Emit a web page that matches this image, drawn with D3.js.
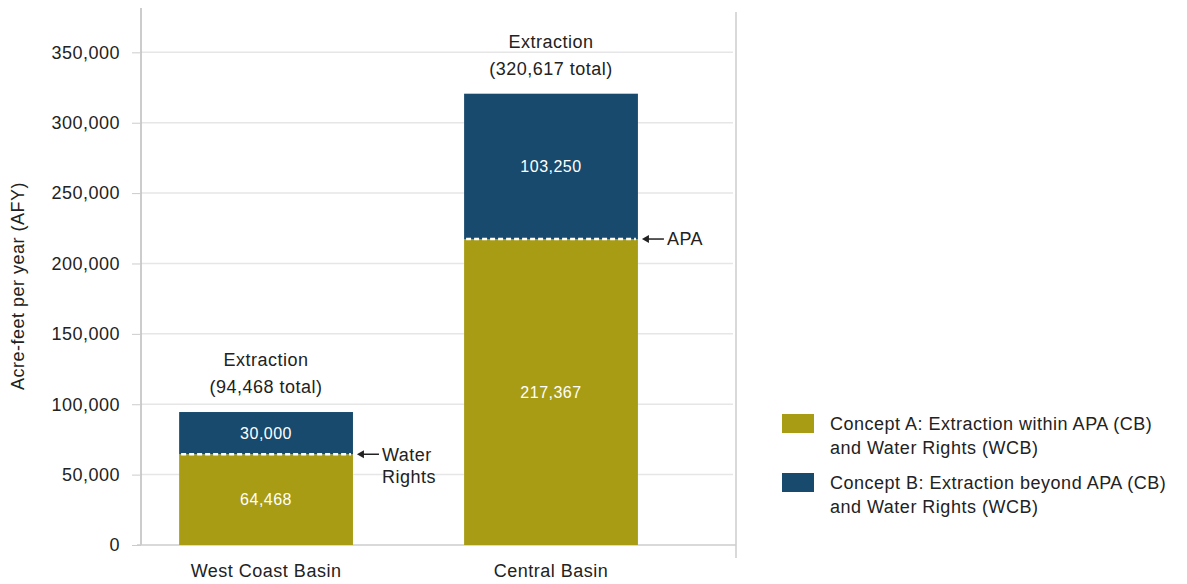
<!DOCTYPE html>
<html>
<head>
<meta charset="utf-8">
<script src="https://cdn.jsdelivr.net/npm/d3@7"></script>
<style>
  body { margin: 0; background: #fff; }
  svg text { font-family: "Liberation Sans", Arial, Helvetica, sans-serif; fill: #222; letter-spacing: 0.5px; }
</style>
</head>
<body>
<svg width="1187" height="584"></svg>
<script>
var basins = ["West Coast Basin", "Central Basin"];
var withinValues = [64468, 217367];   // Concept A
var beyondValues = [30000, 103250];   // Concept B
var totalLabels = ["(94,468 total)", "(320,617 total)"];
var markerLabels = [["Water", "Rights"], ["APA"]];
var yTicks = [0, 50000, 100000, 150000, 200000, 250000, 300000, 350000];
var legendItems = [
  ["Concept A: Extraction within APA (CB)", "and Water Rights (WCB)"],
  ["Concept B: Extraction beyond APA (CB)", "and Water Rights (WCB)"]
];

var colA = "#a89c14", colB = "#174a6d";

var svg = d3.select("svg");
var plotLeft = 141, plotRight = 736, plotTop = 8, plotBottom = 545;

var y = d3.scaleLinear().domain([0, 381500]).range([plotBottom, plotTop]);
var x = d3.scaleBand().domain(basins).range([plotLeft, plotRight])
    .paddingInner(0.39).paddingOuter(0.239).align(0.28);
var fmt = d3.format(",");

// gridlines
svg.append("g").selectAll("line")
    .data(yTicks.slice(1))
    .enter().append("line")
    .attr("x1", plotLeft).attr("x2", plotRight - 3)
    .attr("y1", function (d) { return y(d); })
    .attr("y2", function (d) { return y(d); })
    .attr("stroke", "#e6e6e6").attr("stroke-width", 1.5);

// y axis
var yAxis = svg.append("g")
    .attr("transform", "translate(" + plotLeft + ",0)")
    .call(d3.axisLeft(y).tickValues(yTicks).tickFormat(fmt).tickSize(9).tickPadding(12));
yAxis.select(".domain").attr("stroke", "#bbb").attr("stroke-width", 1.5)
    .attr("d", "M0," + plotBottom + "V" + plotTop);
yAxis.selectAll(".tick line").attr("stroke", "#ccc");
yAxis.selectAll(".tick text").style("font-size", "18px").attr("fill", "#222");

// right border and baseline
svg.append("line").attr("x1", plotRight).attr("x2", plotRight).attr("y1", 12).attr("y2", 558)
    .attr("stroke", "#ccc").attr("stroke-width", 1.5);
svg.append("line").attr("x1", plotLeft - 4).attr("x2", plotRight).attr("y1", plotBottom).attr("y2", plotBottom)
    .attr("stroke", "#ccc").attr("stroke-width", 1.5);

svg.append("text")
    .attr("transform", "translate(24,286) rotate(-90)")
    .attr("text-anchor", "middle")
    .style("font-size", "18px")
    .text("Acre-feet per year (AFY)");

// bars
var g = svg.append("g");
basins.forEach(function (b, i) {
  var a = withinValues[i], c = beyondValues[i];
  var bx = x(b), bw = x.bandwidth(), cx = bx + bw / 2;
  g.append("rect").attr("x", bx).attr("width", bw)
      .attr("y", y(a)).attr("height", y(0) - y(a)).attr("fill", colA);
  g.append("rect").attr("x", bx).attr("width", bw)
      .attr("y", y(a + c)).attr("height", y(0) - y(c)).attr("fill", colB);
  g.append("line").attr("x1", bx + 2).attr("x2", bx + bw - 2)
      .attr("y1", y(a)).attr("y2", y(a))
      .attr("stroke", "#fff").attr("stroke-width", 2.5).attr("stroke-dasharray", "5,3");

  g.append("text").attr("x", cx).attr("y", (y(0) + y(a)) / 2).attr("dy", "0.35em")
      .attr("text-anchor", "middle").style("font-size", "16px").style("fill", "#fff")
      .text(fmt(a));
  g.append("text").attr("x", cx).attr("y", (y(a) + y(a + c)) / 2).attr("dy", "0.35em")
      .attr("text-anchor", "middle").style("font-size", "16px").style("fill", "#fff")
      .text(fmt(c));

  g.append("text").attr("x", cx).attr("y", y(a + c) - 46)
      .attr("text-anchor", "middle").style("font-size", "18px").text("Extraction");
  g.append("text").attr("x", cx).attr("y", y(a + c) - 19)
      .attr("text-anchor", "middle").style("font-size", "18px").text(totalLabels[i]);

  // arrow marker label
  var ax = bx + bw + 4, ay = y(a);
  g.append("line").attr("x1", ax + 3).attr("x2", ax + 22).attr("y1", ay).attr("y2", ay)
      .attr("stroke", "#222").attr("stroke-width", 1.5);
  g.append("path").attr("d", "M" + ax + "," + ay + "l7,-4l0,8z").attr("fill", "#222");
  markerLabels[i].forEach(function (t, k) {
    g.append("text").attr("x", ax + 25).attr("y", ay + k * 22).attr("dy", "0.35em")
        .style("font-size", "18px").text(t);
  });

  g.append("text").attr("x", cx).attr("y", 577)
      .attr("text-anchor", "middle").style("font-size", "18px").text(b);
});

// legend
var leg = svg.append("g").attr("transform", "translate(782,414)");
legendItems.forEach(function (lines, i) {
  var row = leg.append("g").attr("transform", "translate(0," + (i * 59) + ")");
  row.append("rect").attr("width", 32).attr("height", 19).attr("fill", i === 0 ? colA : colB);
  lines.forEach(function (t, k) {
    row.append("text").attr("x", 48).attr("y", 10 + k * 24).attr("dy", "0.35em")
        .style("font-size", "18px").text(t);
  });
});
</script>
</body>
</html>
